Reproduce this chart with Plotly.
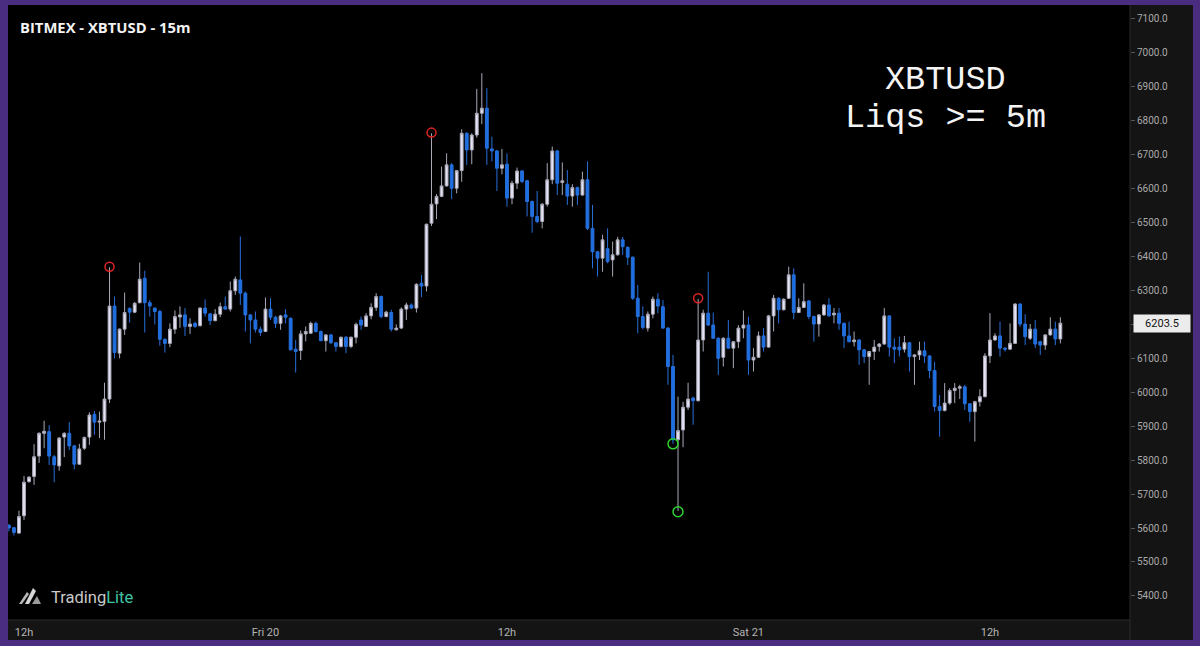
import plotly.graph_objects as go
import pandas as pd

# ---------------- data (15m candles, BitMEX XBTUSD) ----------------
start_time = "2020-03-19 11:15"
opens = [5608, 5601, 5585, 5636, 5737, 5752, 5812, 5879, 5884, 5810,
         5783, 5868, 5879, 5842, 5788, 5835, 5868, 5935, 5912, 5914,
         5980, 6254, 6115, 6186, 6247, 6236, 6264, 6336, 6264, 6248,
         6238, 6156, 6144, 6186, 6222, 6228, 6194, 6203, 6196, 6248,
         6231, 6211, 6230, 6252, 6245, 6299, 6331, 6292, 6228, 6213,
         6186, 6179, 6245, 6221, 6203, 6228, 6218, 6127, 6123, 6172,
         6174, 6203, 6179, 6152, 6169, 6146, 6135, 6162, 6135, 6162,
         6213, 6194, 6225, 6250, 6282, 6223, 6235, 6184, 6189, 6245,
         6257, 6248, 6321, 6313, 6498, 6555, 6577, 6608, 6670, 6601,
         6653, 6763, 6714, 6758, 6822, 6837, 6717, 6711, 6660, 6672,
         6572, 6616, 6652, 6623, 6562, 6518, 6503, 6554, 6626, 6711,
         6618, 6613, 6578, 6603, 6581, 6626, 6483, 6414, 6395, 6423,
         6390, 6405, 6449, 6427, 6398, 6277, 6223, 6189, 6230, 6274,
         6252, 6189, 6076, 5860, 5889, 5956, 5983, 5975, 6154, 6233,
         6198, 6159, 6103, 6159, 6130, 6149, 6189, 6198, 6095, 6103,
         6166, 6133, 6225, 6277, 6243, 6277, 6346, 6235, 6250, 6269,
         6223, 6201, 6228, 6257, 6228, 6233, 6203, 6166, 6149, 6154,
         6125, 6105, 6120, 6135, 6142, 6225, 6133, 6133, 6127, 6146,
         6105, 6110, 6122, 6107, 6064, 5958, 5946, 5968, 6005, 6012,
         6016, 5966, 5943, 5972, 5987, 6107, 6154, 6166, 6130, 6127,
         6144, 6260, 6201, 6159, 6186, 6149, 6139, 6169, 6186, 6157]
highs = [5612, 5603, 5651, 5753, 5752, 5847, 5882, 5916, 5903, 5815,
         5868, 5882, 5912, 5845, 5848, 5869, 5941, 5945, 5943, 6028,
         6368, 6282, 6188, 6294, 6250, 6266, 6382, 6358, 6272, 6250,
         6243, 6158, 6203, 6241, 6253, 6248, 6218, 6208, 6250, 6274,
         6233, 6245, 6264, 6282, 6326, 6341, 6459, 6297, 6230, 6238,
         6194, 6279, 6277, 6225, 6228, 6245, 6221, 6154, 6182, 6194,
         6208, 6208, 6182, 6171, 6172, 6148, 6164, 6166, 6164, 6205,
         6223, 6233, 6262, 6292, 6285, 6240, 6243, 6200, 6250, 6264,
         6262, 6321, 6346, 6497, 6763, 6584, 6665, 6704, 6675, 6655,
         6775, 6766, 6763, 6894, 6940, 6896, 6753, 6714, 6717, 6704,
         6623, 6662, 6655, 6626, 6565, 6593, 6557, 6675, 6724, 6714,
         6677, 6655, 6613, 6606, 6650, 6680, 6552, 6416, 6464, 6483,
         6444, 6458, 6458, 6430, 6400, 6316, 6253, 6238, 6282, 6292,
         6272, 6192, 6110, 5987, 5972, 6028, 5987, 6275, 6243, 6355,
         6235, 6162, 6162, 6213, 6151, 6198, 6241, 6223, 6130, 6179,
         6189, 6228, 6287, 6280, 6277, 6370, 6365, 6277, 6321, 6272,
         6226, 6230, 6260, 6277, 6248, 6248, 6206, 6208, 6179, 6156,
         6127, 6122, 6154, 6145, 6248, 6227, 6159, 6164, 6166, 6148,
         6112, 6149, 6149, 6110, 6090, 5992, 6027, 6012, 6027, 6022,
         6022, 5968, 5975, 6009, 6115, 6233, 6174, 6208, 6133, 6203,
         6262, 6262, 6230, 6201, 6213, 6152, 6171, 6221, 6208, 6221]
lows = [5590, 5578, 5583, 5624, 5733, 5727, 5792, 5835, 5786, 5735,
        5769, 5809, 5830, 5773, 5786, 5830, 5845, 5875, 5865, 5860,
        5968, 6100, 6100, 6169, 6205, 6233, 6262, 6176, 6223, 6200,
        6137, 6117, 6133, 6172, 6190, 6166, 6172, 6190, 6194, 6223,
        6198, 6209, 6221, 6243, 6238, 6287, 6257, 6179, 6144, 6176,
        6166, 6179, 6213, 6189, 6184, 6203, 6123, 6058, 6095, 6150,
        6172, 6176, 6150, 6120, 6142, 6120, 6132, 6115, 6130, 6144,
        6184, 6192, 6215, 6240, 6218, 6221, 6179, 6182, 6186, 6213,
        6245, 6235, 6280, 6297, 6490, 6510, 6575, 6606, 6569, 6586,
        6620, 6670, 6672, 6750, 6790, 6670, 6680, 6593, 6642, 6547,
        6554, 6599, 6616, 6518, 6470, 6498, 6483, 6547, 6613, 6581,
        6581, 6552, 6547, 6552, 6579, 6478, 6365, 6341, 6355, 6380,
        6341, 6403, 6405, 6375, 6272, 6174, 6185, 6179, 6218, 6233,
        6187, 6022, 5848, 5650, 5838, 5948, 5904, 5973, 6120, 6195,
        6157, 6051, 6076, 6128, 6071, 6130, 6159, 6051, 6061, 6101,
        6120, 6131, 6179, 6203, 6241, 6275, 6215, 6233, 6248, 6215,
        6149, 6164, 6225, 6223, 6203, 6184, 6130, 6147, 6135, 6081,
        6086, 6022, 6095, 6120, 6140, 6105, 6086, 6105, 6117, 6061,
        6022, 6095, 6086, 6041, 5943, 5869, 5944, 5963, 5968, 5980,
        5948, 5913, 5855, 5958, 5985, 6086, 6152, 6105, 6120, 6125,
        6142, 6193, 6139, 6154, 6130, 6110, 6125, 6167, 6139, 6144]
closes = [5600, 5587, 5634, 5735, 5750, 5810, 5879, 5885, 5812, 5786,
          5865, 5879, 5842, 5788, 5833, 5867, 5933, 5912, 5915, 5980,
          6254, 6117, 6186, 6235, 6236, 6262, 6333, 6264, 6254, 6238,
          6156, 6144, 6186, 6223, 6228, 6194, 6201, 6194, 6248, 6233,
          6211, 6230, 6252, 6245, 6299, 6333, 6292, 6228, 6213, 6186,
          6176, 6245, 6221, 6203, 6225, 6221, 6125, 6120, 6172, 6179,
          6203, 6179, 6152, 6169, 6146, 6135, 6162, 6135, 6162, 6200,
          6198, 6225, 6250, 6282, 6223, 6236, 6186, 6189, 6245, 6257,
          6248, 6318, 6313, 6495, 6554, 6577, 6608, 6670, 6601, 6653,
          6763, 6714, 6758, 6822, 6837, 6719, 6711, 6660, 6670, 6572,
          6616, 6652, 6621, 6562, 6518, 6503, 6554, 6626, 6711, 6616,
          6623, 6578, 6603, 6581, 6626, 6483, 6414, 6395, 6449, 6385,
          6405, 6449, 6429, 6398, 6277, 6223, 6191, 6230, 6274, 6254,
          6189, 6076, 5860, 5887, 5956, 5980, 5975, 6154, 6233, 6198,
          6159, 6100, 6159, 6130, 6149, 6189, 6198, 6095, 6103, 6166,
          6133, 6225, 6277, 6243, 6274, 6346, 6235, 6250, 6267, 6223,
          6201, 6228, 6257, 6225, 6233, 6203, 6166, 6149, 6154, 6125,
          6105, 6120, 6133, 6142, 6225, 6133, 6127, 6125, 6146, 6105,
          6110, 6122, 6107, 6064, 5958, 5946, 5968, 6005, 6012, 6016,
          5966, 5943, 5972, 5987, 6107, 6154, 6166, 6130, 6127, 6144,
          6260, 6201, 6164, 6186, 6142, 6139, 6169, 6186, 6157, 6203.5]

# liquidation markers (candle index, price)
liq_short_idx = [20, 84, 137]
liq_short_px = [6370, 6765, 6277]
liq_long_idx = [132, 133]
liq_long_px = [5848, 5648]

price_ticks = [5400, 5500, 5600, 5700, 5800, 5900, 6000, 6100, 6200,
               6300, 6400, 6500, 6600, 6700, 6800, 6900, 7000, 7100]
time_tick_vals = ["2020-03-19 12:00", "2020-03-20 00:00", "2020-03-20 12:00",
                  "2020-03-21 00:00", "2020-03-21 12:00"]
time_tick_text = ["12h", "Fri 20", "12h", "Sat 21", "12h"]

title_text = "BITMEX - XBTUSD - 15m"
overlay_line1 = "XBTUSD"
overlay_line2 = "Liqs &gt;= 5m"
last_price = closes[-1]

# ---------------- figure ----------------
W, H = 1200, 646
L, R, T, B = 8, 1130, 5, 620


def px(x):
    return (x - L) / (R - L)


def py(y):
    return (B - y) / (B - T)


times = pd.date_range(start_time, periods=len(opens), freq="15min")

UP_FILL = "#e3e3f3"
UP_LINE = "#a9a9b8"
DN_FILL = "#1c6fe3"
DN_LINE = "#2870db"

fig = go.Figure()
fig.add_trace(go.Candlestick(
    x=times, open=opens, high=highs, low=lows, close=closes,
    increasing=dict(fillcolor=UP_FILL, line=dict(color=UP_LINE, width=1)),
    decreasing=dict(fillcolor=DN_FILL, line=dict(color=DN_LINE, width=1)),
    whiskerwidth=0, showlegend=False, hoverinfo="skip",
))
fig.add_trace(go.Scatter(
    x=[times[i] for i in liq_short_idx], y=liq_short_px, mode="markers",
    marker=dict(symbol="circle-open", size=9, color="#e02424", line=dict(width=1.5)),
    showlegend=False, hoverinfo="skip",
))
fig.add_trace(go.Scatter(
    x=[times[i] for i in liq_long_idx], y=liq_long_px, mode="markers",
    marker=dict(symbol="circle-open", size=10, color="#2ed42e", line=dict(width=1.5)),
    showlegend=False, hoverinfo="skip",
))

shapes = [
    # right price-axis strip
    dict(type="rect", xref="paper", yref="paper", x0=1.0, x1=px(1193), y0=py(640), y1=1.0,
         fillcolor="#141414", line=dict(width=0), layer="below"),
    # bottom time-axis strip
    dict(type="rect", xref="paper", yref="paper", x0=0.0, x1=1.0, y0=py(640), y1=0.0,
         fillcolor="#141414", line=dict(width=0), layer="below"),
    # separators
    dict(type="line", xref="paper", yref="paper", x0=1.0, x1=1.0, y0=py(640), y1=1.0,
         line=dict(color="#2a2a2a", width=1)),
    dict(type="line", xref="paper", yref="paper", x0=0.0, x1=1.0, y0=0.0, y1=0.0,
         line=dict(color="#2a2a2a", width=1)),
    # TradingLite logo glyph
    dict(type="path", xref="paper", yref="paper",
         path=f"M {px(19)} {py(604)} L {px(27)} {py(592)} L {px(29)} {py(594)} L {px(22)} {py(604)} Z",
         fillcolor="#b8b8b8", line=dict(width=0)),
    dict(type="path", xref="paper", yref="paper",
         path=f"M {px(25)} {py(604)} L {px(33)} {py(588)} L {px(36)} {py(591)} L {px(29)} {py(604)} Z",
         fillcolor="#d6d6d6", line=dict(width=0)),
    dict(type="path", xref="paper", yref="paper",
         path=f"M {px(32)} {py(604)} L {px(37)} {py(596)} L {px(41)} {py(604)} Z",
         fillcolor="#9a9a9a", line=dict(width=0)),
]

annotations = [
    dict(xref="paper", yref="paper", x=px(18), y=py(27), xanchor="left", yanchor="middle",
         text=f"<b>{title_text}</b>", showarrow=False,
         font=dict(family="Open Sans", size=14.8, color="#f2f2f2")),
    dict(xref="paper", yref="paper", x=px(945), y=py(80), xanchor="center", yanchor="middle",
         text=overlay_line1, showarrow=False,
         font=dict(family="Liberation Mono", size=33.5, color="#f4f4f4")),
    dict(xref="paper", yref="paper", x=px(945), y=py(118), xanchor="center", yanchor="middle",
         text=overlay_line2, showarrow=False,
         font=dict(family="Liberation Mono", size=33.5, color="#f4f4f4")),
    dict(xref="paper", yref="paper", x=px(49), y=py(597), xanchor="left", yanchor="middle",
         text="Trading<span style='color:#3fc4a6'>Lite</span>", showarrow=False,
         font=dict(family="Roboto", size=16.5, color="#c9c9c9")),
    dict(xref="paper", yref="y", x=px(1133), y=last_price, xanchor="left", yanchor="middle",
         text=f"{last_price:.1f}", showarrow=False, bgcolor="#ececec",
         font=dict(family="Roboto", size=11, color="#111111"),
         borderpad=2, width=52),
]

fig.update_layout(
    width=W, height=H,
    margin=dict(l=L, r=W - R, t=T, b=H - B, pad=0),
    paper_bgcolor="#4a2d80",
    plot_bgcolor="#000000",
    shapes=shapes,
    annotations=annotations,
    showlegend=False,
    boxgap=0.2,
    xaxis=dict(
        type="date",
        range=["2020-03-19 11:12:18", "2020-03-21 18:57:36"],
        rangeslider=dict(visible=False),
        showgrid=False, zeroline=False, showline=False,
        tickmode="array", tickvals=time_tick_vals, ticktext=time_tick_text,
        ticks="", tickfont=dict(family="Roboto", size=11, color="#b5b5b5"),
        ticklabelstandoff=4,
    ),
    yaxis=dict(
        side="right", range=[5329, 7141],
        showgrid=False, zeroline=False, showline=False,
        tickmode="array", tickvals=price_ticks,
        # the 6200.0 label sits under the last-price tag in the reference
        ticktext=["" if v == 6200 else f"{v:.1f}" for v in price_ticks],
        ticks="outside", ticklen=4, tickcolor="#555555",
        tickfont=dict(family="Roboto", size=10, color="#a9a9a9"),
    ),
)

fig.write_html(
    "out.html",
    config={"displayModeBar": False},
    post_script="document.body.style.margin='0';document.body.style.padding='0';"
                "document.body.style.overflow='hidden';",
)
